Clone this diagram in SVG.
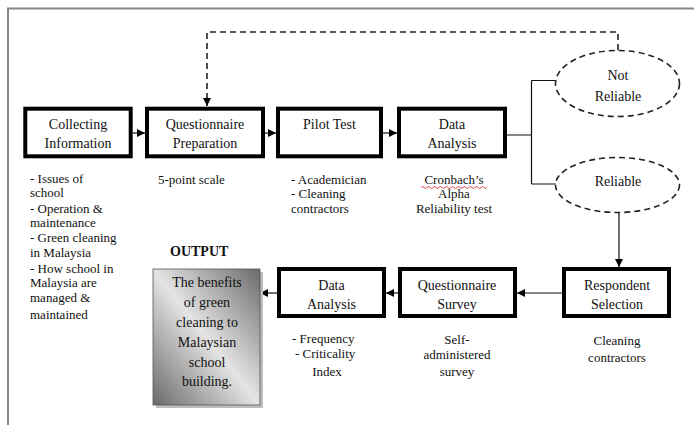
<svg xmlns="http://www.w3.org/2000/svg" width="694" height="425" viewBox="0 0 694 425">
  <style>
    text { font-family: "Liberation Serif", "Times New Roman", serif; fill: #111; }
    .t { font-size: 14px; text-anchor: middle; }
    .n { font-size: 13px; }
    .nc { font-size: 13px; text-anchor: middle; }
    .box { fill: #fff; stroke: #000; stroke-width: 4; }
    .line { fill: none; stroke: #111; stroke-width: 1.2; }
    .dash { fill: none; stroke: #222; stroke-width: 1.6; stroke-dasharray: 6 4; }
    .oval { fill: #fff; stroke: #222; stroke-width: 1.6; stroke-dasharray: 6 4; }
  </style>
  <defs>
    <marker id="arrow" viewBox="0 0 10 10" refX="10" refY="5" markerWidth="8" markerHeight="8" markerUnits="userSpaceOnUse" orient="auto">
      <path d="M0 0 L10 5 L0 10 Z" fill="#000"/>
    </marker>
    <linearGradient id="outGrad" x1="1" y1="0" x2="0" y2="1">
      <stop offset="0" stop-color="#6a6a6a"/>
      <stop offset="0.5" stop-color="#e4e4e4"/>
      <stop offset="1" stop-color="#6a6a6a"/>
    </linearGradient>
  </defs>

  <!-- page frame -->
  <path d="M8 425 V8.5 H694" fill="none" stroke="#888" stroke-width="2"/>

  <!-- connectors -->
  <g id="connectors">
    <line class="line" x1="133" y1="133" x2="145" y2="133" marker-end="url(#arrow)"/>
    <line class="line" x1="265" y1="133" x2="276" y2="133" marker-end="url(#arrow)"/>
    <line class="line" x1="383" y1="133" x2="397" y2="133" marker-end="url(#arrow)"/>
    <path class="line" d="M507 135 H531.5 M531.5 80.5 V184 M531.5 80.5 H556 M531.5 184 H556"/>
    <path class="dash" d="M618 50 V32 H207 V106" marker-end="url(#arrow)"/>
    <line class="line" x1="619" y1="213" x2="619" y2="267" marker-end="url(#arrow)"/>
    <line class="line" x1="562" y1="293" x2="517" y2="293" marker-end="url(#arrow)"/>
    <line class="line" x1="398" y1="293" x2="386" y2="293" marker-end="url(#arrow)"/>
    <line class="line" x1="277" y1="293" x2="260" y2="293" marker-end="url(#arrow)"/>
  </g>

  <!-- top row -->
  <g id="collecting">
    <rect class="box" x="25.3" y="108.7" width="105.4" height="47.6"/>
    <text class="t" x="78" y="129">Collecting</text>
    <text class="t" x="78" y="148">Information</text>
    <text class="n" x="30" y="183">- Issues of</text>
    <text class="n" x="30" y="197">school</text>
    <text class="n" x="30" y="213">- Operation &amp;</text>
    <text class="n" x="30" y="227">maintenance</text>
    <text class="n" x="30" y="242">- Green cleaning</text>
    <text class="n" x="30" y="257">in Malaysia</text>
    <text class="n" x="30" y="273">- How school in</text>
    <text class="n" x="30" y="287">Malaysia are</text>
    <text class="n" x="30" y="302">managed &amp;</text>
    <text class="n" x="30" y="319">maintained</text>
  </g>

  <g id="preparation">
    <rect class="box" x="147" y="108.7" width="116" height="47.6"/>
    <text class="t" x="205" y="129">Questionnaire</text>
    <text class="t" x="205" y="148">Preparation</text>
    <text class="n" x="158" y="184">5-point scale</text>
  </g>

  <g id="pilot">
    <rect class="box" x="278" y="108.7" width="103" height="47.6"/>
    <text class="t" x="329.5" y="129">Pilot Test</text>
    <text class="n" x="291" y="184">- Academician</text>
    <text class="n" x="291" y="198">- Cleaning</text>
    <text class="n" x="291" y="213">contractors</text>
  </g>

  <g id="analysis1">
    <rect class="box" x="399" y="108.7" width="106" height="47.6"/>
    <text class="t" x="452" y="129">Data</text>
    <text class="t" x="452" y="148">Analysis</text>
    <text class="nc" x="454" y="184">Cronbach’s</text>
    <path d="M421 187.5 q1.5 -2 3 0 t3 0 t3 0 t3 0 t3 0 t3 0 t3 0 t3 0 t3 0 t3 0 t3 0 t3 0 t3 0 t3 0 t3 0 t3 0 t3 0 t3 0 t3 0 t3 0 t3 0 t3 0" fill="none" stroke="#e03030" stroke-width="0.9"/>
    <text class="nc" x="454" y="198">Alpha</text>
    <text class="nc" x="454" y="213">Reliability test</text>
  </g>

  <g id="not-reliable">
    <ellipse class="oval" cx="617.5" cy="83.5" rx="62" ry="33"/>
    <text class="t" x="618" y="80">Not</text>
    <text class="t" x="618" y="101">Reliable</text>
  </g>

  <g id="reliable">
    <ellipse class="oval" cx="617.5" cy="185" rx="62" ry="27.5"/>
    <text class="t" x="618" y="186">Reliable</text>
  </g>

  <!-- bottom row -->
  <g id="respondent">
    <rect class="box" x="564" y="269" width="105" height="47"/>
    <text class="t" x="617" y="290">Respondent</text>
    <text class="t" x="617" y="309">Selection</text>
    <text class="nc" x="617" y="345">Cleaning</text>
    <text class="nc" x="617" y="362">contractors</text>
  </g>

  <g id="survey">
    <rect class="box" x="400" y="269" width="115" height="47"/>
    <text class="t" x="457" y="290">Questionnaire</text>
    <text class="t" x="457" y="309">Survey</text>
    <text class="nc" x="457" y="344">Self-</text>
    <text class="nc" x="457" y="359">administered</text>
    <text class="nc" x="457" y="376">survey</text>
  </g>

  <g id="analysis2">
    <rect class="box" x="279" y="269" width="105" height="47"/>
    <text class="t" x="331.5" y="290">Data</text>
    <text class="t" x="331.5" y="309">Analysis</text>
    <text class="n" x="292" y="343">- Frequency</text>
    <text class="n" x="295" y="358">- Criticality</text>
    <text class="nc" x="327" y="376">Index</text>
  </g>

  <g id="output">
    <text x="170" y="256" style="font-size:14px;font-weight:bold">OUTPUT</text>
    <rect x="156" y="272" width="107" height="136" fill="#bdbdbd"/>
    <rect x="153" y="269" width="107" height="136" fill="url(#outGrad)" stroke="#555" stroke-width="0.8"/>
    <text class="t" x="207" y="287">The benefits</text>
    <text class="t" x="207" y="307">of green</text>
    <text class="t" x="207" y="327">cleaning to</text>
    <text class="t" x="207" y="347">Malaysian</text>
    <text class="t" x="207" y="367">school</text>
    <text class="t" x="207" y="386">building.</text>
  </g>
</svg>
